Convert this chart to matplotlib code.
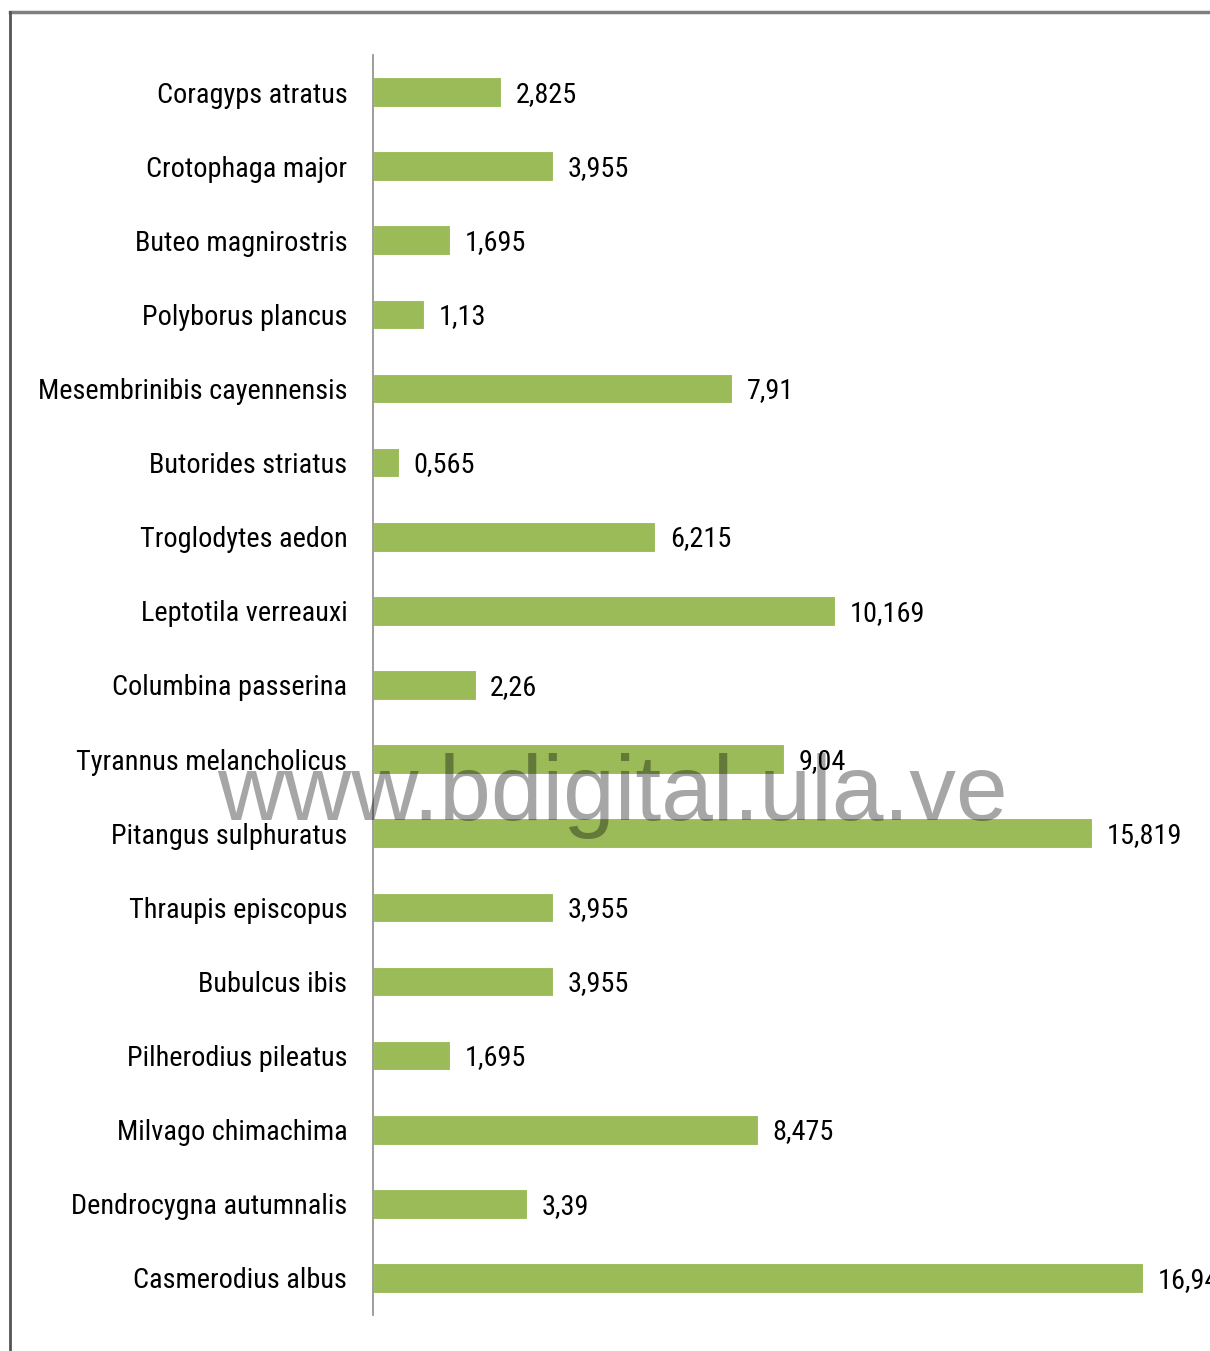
import matplotlib.pyplot as plt
from matplotlib import font_manager
from matplotlib.lines import Line2D
from matplotlib.textpath import TextPath
from matplotlib.font_manager import FontProperties

species = [
    "Coragyps atratus", "Crotophaga major", "Buteo magnirostris",
    "Polyborus plancus", "Mesembrinibis cayennensis", "Butorides striatus",
    "Troglodytes aedon", "Leptotila verreauxi", "Columbina passerina",
    "Tyrannus melancholicus", "Pitangus sulphuratus", "Thraupis episcopus",
    "Bubulcus ibis", "Pilherodius pileatus", "Milvago chimachima",
    "Dendrocygna autumnalis", "Casmerodius albus",
]
values = [2.825, 3.955, 1.695, 1.13, 7.91, 0.565, 6.215, 10.169, 2.26,
          9.04, 15.819, 3.955, 3.955, 1.695, 8.475, 3.39, 16.949]

# pick a narrow face if one is installed
names = {f.name for f in font_manager.fontManager.ttflist}
family = 'DejaVu Sans'
for cand in ['Liberation Sans Narrow', 'DejaVu Sans Condensed', 'Roboto Condensed',
             'Open Sans Condensed', 'Noto Sans Condensed']:
    if cand in names:
        family = cand
        break
plt.rcParams['font.family'] = [family, 'DejaVu Sans']

# size the labels so the longest one is as wide as in the original (~306 px)
w = TextPath((0, 0), "Mesembrinibis cayennensis", size=100,
             prop=FontProperties(family=family)).get_extents().width
fs = 306 / w * 100 * 72 / 100

W, H = 1210, 1351
fig = plt.figure(figsize=(W / 100, H / 100), dpi=100)
ax = fig.add_axes([373 / W, 1 - 1315 / H, (W - 373) / W, 1260 / H])

pos = list(range(len(species)))
ax.barh(pos, values, height=0.4, color='#9BBB59', edgecolor='white', linewidth=0.8)
ax.set_ylim(len(species) - 0.5, -0.5)
ax.set_xlim(0, 18.42)

for y, v in zip(pos, values):
    ax.text(v + 0.32, y + 0.03, str(v).replace('.', ','), va='center', ha='left',
            fontsize=fs, color='black', clip_on=False)

ax.set_yticks(pos)
ax.set_yticklabels(species, fontsize=fs)
ax.tick_params(axis='y', length=0, pad=18.5)
ax.set_xticks([])
for s in ['top', 'right', 'bottom']:
    ax.spines[s].set_visible(False)
ax.spines['left'].set_color('#8c8c8c')
ax.spines['left'].set_linewidth(1.2)

# outer frame (only top and left visible, image cropped)
fig.add_artist(Line2D([10 / W, 1], [1 - 12 / H, 1 - 12 / H], color='#7f7f7f', lw=2.5))
fig.add_artist(Line2D([10 / W, 10 / W], [1 - 12 / H, 0], color='#555555', lw=2))

# watermark
fig.text(612 / W, 1 - 796 / H, "www.bdigital.ula.ve", family='Liberation Sans',
         fontsize=67, color='black', alpha=0.35, ha='center', va='center')

fig.savefig('out.png', dpi=100)
